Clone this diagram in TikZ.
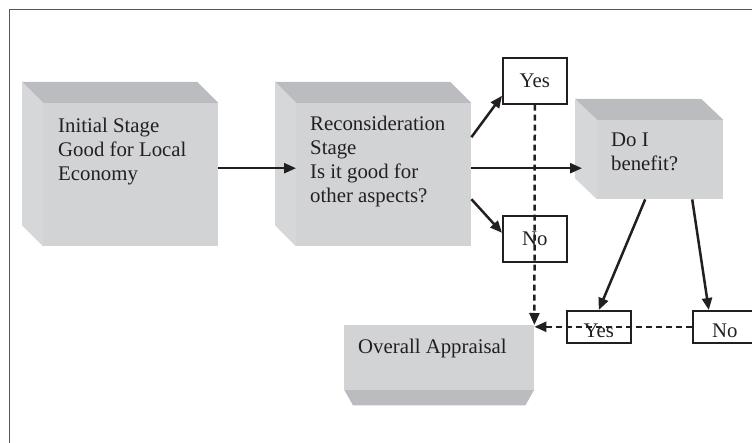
\documentclass[tikz,border=0pt]{standalone}
\usepackage{fontspec}
\setmainfont{Liberation Serif}
\usetikzlibrary{arrows.meta}
\definecolor{facefront}{RGB}{210,211,213}
\definecolor{facetop}{RGB}{187,188,191}
\definecolor{faceside}{RGB}{214,215,217}
\definecolor{ink}{RGB}{35,31,32}
\tikzset{%
    every node/.style={inner sep=0pt, text=ink,
    	font=\fontsize{20.8}{24}\selectfont},
    front/.style={fill=facefront, anchor=north west},
    label text/.style={anchor=north west, align=left},
    answer/.style={draw=ink, line width=1.6pt, minimum width=64,
    	minimum height=46, anchor=north west},
    low answer/.style={answer, minimum height=0pt, text height=24pt,
    	text depth=2pt, inner ysep=3pt},
    arr/.style={draw=ink, line width=2.5pt, -{Triangle[length=12pt,width=10pt]}},
    dash arr/.style={arr, dash pattern=on 6pt off 4pt}
}

\begin{document}
\begin{tikzpicture}[x=1pt, y=-1pt]
  \useasboundingbox (0,0) rectangle (752,443);
  \draw[ink!75, line width=1.8pt] (9.5,443) -- (9.5,9.5) -- (752,9.5);

  \node (b1) [front, minimum width=175, minimum height=143] at (43,103) {};
  \node (b2) [front, minimum width=175, minimum height=143] at (296,103) {};
  \node (b3) [front, minimum width=126, minimum height=79] at (597,120) {};
  \node (b4) [front, minimum width=190, minimum height=64] at (344,325) {};

  \fill[facetop] (b1.north west) -- ++(-21,-21) -- ([shift={(-21,-21)}]b1.north east) -- (b1.north east) -- cycle;
  \fill[faceside] (b1.north west) -- ++(-21,-21) -- ([shift={(-21,-21)}]b1.south west) -- (b1.south west) -- cycle;
  \fill[facetop] (b2.north west) -- ++(-21,-21) -- ([shift={(-21,-21)}]b2.north east) -- (b2.north east) -- cycle;
  \fill[faceside] (b2.north west) -- ++(-21,-21) -- ([shift={(-21,-21)}]b2.south west) -- (b2.south west) -- cycle;
  \fill[facetop] (b3.north west) -- ++(-22,-21) -- ([shift={(-22,-21)}]b3.north east) -- (b3.north east) -- cycle;
  \fill[faceside] (b3.north west) -- ++(-22,-21) -- ([shift={(-22,-21)}]b3.south west) -- (b3.south west) -- cycle;
  \fill[facetop] (b4.south west) -- (b4.south east) -- ++(-9,16) -- ([shift={(9,16)}]b4.south west) -- cycle;

  \node (t1) [label text] at (58,118) {Initial Stage\\Good for Local\\Economy};
  \node (t2) [label text] at (310,116) {Reconsideration\\Stage\\Is it good for\\other aspects?};
  \node (t3) [label text] at (611,133) {Do I\\benefit?};
  \node (t4) [label text] at (358,339) {Overall Appraisal};

  \node (yes1) [answer] at (502,57) {Yes};
  \node (no1) [answer] at (502,215) {No};
  \node (yes2) [low answer] at (566,310) {Yes};
  \node (no2) [low answer] at (692,310) {No};

  \draw[arr] ([yshift=6.5pt]b1.east) -- ([yshift=6.5pt]b2.west);
  \draw[arr] ([yshift=37.5pt]b2.east) -- ([yshift=-15pt]yes1.west);
  \draw[arr] ([yshift=-24.5pt]b2.east) -- ([yshift=6pt]no1.west);
  \draw[arr] ([yshift=6.5pt]b2.east) -- ([xshift=-15pt,yshift=-8.5pt]b3.west);
  \draw[arr] ([xshift=-15pt]b3.south) -- (yes2.north);
  \draw[arr] ([xshift=32pt]b3.south) -- ([xshift=-16pt]no2.north);

  \draw[dash arr] (yes1.south) -- (b4.north east);
  \draw[dash arr] (no2.west) -- (b4.north east |- no2.west);
\end{tikzpicture}
\end{document}
